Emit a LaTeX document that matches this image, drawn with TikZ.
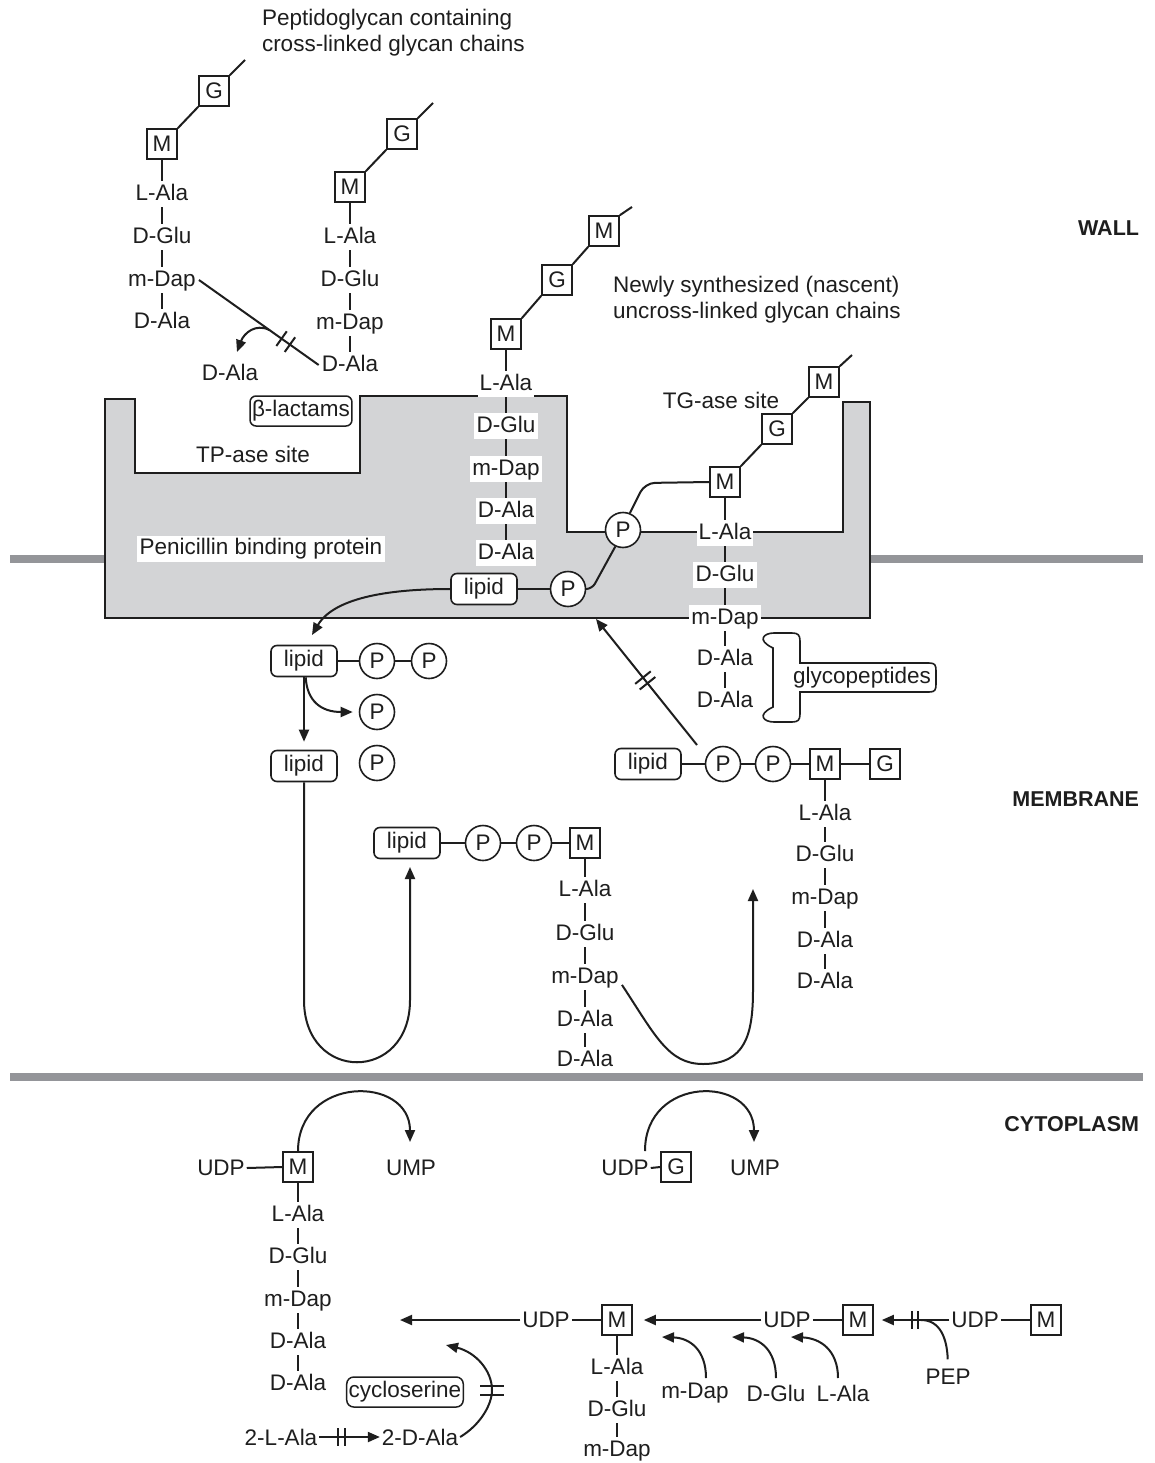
\documentclass[tikz,border=0pt]{standalone}
\usepackage{fontspec}
\setmainfont{Liberation Sans}
\usetikzlibrary{arrows.meta,calc,backgrounds}
\definecolor{pbpgray}{RGB}{211,212,214}
\definecolor{memgray}{RGB}{148,149,153}
\definecolor{ink}{RGB}{30,30,30}
\begin{document}
\begin{tikzpicture}[x=1pt,y=-1pt,
  every node/.style={font=\fontsize{22.5}{26}\selectfont,text=ink},
  every path/.append style={line width=2pt},
  sug/.style={draw=ink,fill=white,minimum size=30pt,inner sep=0pt,line width=1.6pt},
  pp/.style={draw=ink,fill=white,circle,minimum size=35pt,inner sep=0pt,line width=1.6pt},
  lip/.style={draw=ink,fill=white,rounded corners=6pt,minimum width=66pt,minimum height=31pt,inner sep=0pt,line width=1.6pt,text height=15.5pt,text depth=4.7pt},
  pep/.style={fill=white,inner sep=2.2pt,text height=16.8pt,text depth=4.7pt,yshift=-2pt},
  txt/.style={inner sep=1pt},
  cn/.style={draw=ink,line width=2pt},
  arr/.style={cn,-{Triangle[length=12pt,width=10pt]}},
  lbl/.style={font=\fontsize{21.5}{24}\selectfont\bfseries,anchor=east,inner sep=0pt},
]
\useasboundingbox (0,0) rectangle (1155,1463);
\begin{pgfonlayer}{background}
\fill[white] (0,0) rectangle (1155,1463);
\draw[memgray,line width=8pt] (10,559) -- (105,559);
\draw[memgray,line width=8pt] (870,559) -- (1143,559);
\draw[memgray,line width=8pt] (10,1077) -- (1143,1077);
\draw[fill=pbpgray,draw=ink,line width=1.7pt] (105,399) -- (135,399) -- (135,473) -- (360,473) -- (360,396) -- (567,396) -- (567,532) -- (843,532) -- (843,402) -- (870,402) -- (870,618) -- (105,618) -- cycle;
\end{pgfonlayer}

% titles
\node[txt,anchor=west,align=left] (title1) at (260,33) {Peptidoglycan containing\\cross-linked glycan chains};
\node[txt,anchor=west,align=left] (title2) at (611,300) {Newly synthesized (nascent)\\uncross-linked glycan chains};
\node[lbl] (wall) at (1140,228) {WALL};
\node[lbl] (memb) at (1140,799) {MEMBRANE};
\node[lbl] (cyto) at (1140,1124) {CYTOPLASM};

% chain 1
\node[sug] (g1) at (214,91) {G};
\node[sug] (m1) at (162,144) {M};
\node[pep] (a1) at (162,192) {L-Ala};
\node[pep] (b1) at (162,235) {D-Glu};
\node[pep] (c1) at (162,278) {m-Dap};
\node[pep] (d1) at (162,320) {D-Ala};
\coordinate (g1e) at (245,60);
\draw[cn] (m1.north east) -- (g1.south west);
\draw[cn] (g1.north east) -- (g1e);
% chain 2
\node[sug] (g2) at (402,134) {G};
\node[sug] (m2) at (350,187) {M};
\node[pep] (a2) at (350,235) {L-Ala};
\node[pep] (b2) at (350,278) {D-Glu};
\node[pep] (c2) at (350,321) {m-Dap};
\node[pep] (d2) at (350,363) {D-Ala};
\coordinate (g2e) at (433,103);
\draw[cn] (m2.north east) -- (g2.south west);
\draw[cn] (g2.north east) -- (g2e);
% cross link
\draw[cn] (c1.east) -- (d2.west);
\path (c1.east) -- (d2.west) coordinate[pos=0.59] (x0) coordinate[pos=0.69] (x1) coordinate[pos=0.76] (x2);
\draw[cn] ($(x1)!9pt!90:(d2.west)$) -- ($(x1)!9pt!-90:(d2.west)$);
\draw[cn] ($(x2)!9pt!90:(d2.west)$) -- ($(x2)!9pt!-90:(d2.west)$);
\node[txt] (dfree) at (230,372) {D-Ala};
\coordinate (dft) at (237,352);
\draw[arr] (x0) .. controls (256,323) and (244,333) .. (dft);

% nascent chain
\node[sug] (m3t) at (604,231) {M};
\node[sug] (g3) at (557,280) {G};
\node[sug] (m3) at (506,334) {M};
\coordinate (m3e) at (632,207);
\draw[cn] (m3.north east) -- (g3.south west);
\draw[cn] (g3.north east) -- (m3t.south west);
\draw[cn] (m3t.north east) -- (m3e);
\node[pep] (a3) at (506,382) {L-Ala};
\node[pep] (b3) at (506,424) {D-Glu};
\node[pep] (c3) at (506,467) {m-Dap};
\node[pep] (d3) at (506,509) {D-Ala};
\node[pep] (e3) at (506,551) {D-Ala};

% PBP labels
\node[draw=ink,rounded corners=6pt,fill=white,inner sep=2pt,minimum height=30pt,line width=1.5pt] (blac) at (301,411) {β-lactams};
\node[txt] (tp) at (253,454) {TP-ase site};
\node[fill=white,inner sep=3pt] (pbp) at (261,549) {Penicillin binding protein};
\node[txt] (tg) at (721,400) {TG-ase site};

% PBP right chain
\node[sug] (m4t) at (824,382) {M};
\node[sug] (g4) at (777,429) {G};
\node[sug] (m4) at (725,482) {M};
\coordinate (m4e) at (852,355);
\draw[cn] (m4.north east) -- (g4.south west);
\draw[cn] (g4.north east) -- (m4t.south west);
\draw[cn] (m4t.north east) -- (m4e);
\node[pep] (a4) at (725,531) {L-Ala};
\node[pep] (b4) at (725,573) {D-Glu};
\node[pep] (c4) at (725,616) {m-Dap};
\node[pep] (d4) at (725,657) {D-Ala};
\node[pep] (e4) at (725,699) {D-Ala};

% lipid in PBP
\node[lip] (l0) at (484,589) {lipid};
\node[pp] (p1) at (568,589) {P};
\node[pp] (p2) at (623,530) {P};
\draw[cn] (l0.east) -- (p1.west);
\draw[cn,rounded corners=6pt] (p1.east) -- (592,589) -- (p2.245);
\draw[cn,rounded corners=10pt] (p2.68) -- (645,483) -- (m4.west);

% glycopeptides
\node[txt] (gp) at (862,678) {glycopeptides};
\draw[draw=ink,line width=1.6pt] (800,663) -- (800,641) .. controls (800,635) and (798,633) .. (792,633) -- (774,633) .. controls (764,633) and (756,640) .. (773,648) -- (773,707) .. controls (756,715) and (764,722) .. (774,722) -- (792,722) .. controls (798,722) and (800,720) .. (800,714) -- (800,692) -- (929,692) .. controls (935,692) and (936,690) .. (936,684) -- (936,671) .. controls (936,665) and (935,663) .. (929,663) -- cycle;

% left membrane
\node[lip] (l1) at (304,661) {lipid};
\node[pp] (p11) at (377,661) {P};
\node[pp] (p12) at (429,661) {P};
\draw[cn] (l1.east) -- (p11.west);
\draw[cn] (p11.east) -- (p12.west);
\node[pp] (p13) at (377,712) {P};
\node[lip] (l2) at (304,766) {lipid};
\node[pp] (p14) at (377,763) {P};
\coordinate (t1) at (312,635);
\draw[arr] (l0.west) .. controls (395,589) and (335,596) .. (t1);
\draw[arr,shorten >=8pt] (l1.south) -- (l2.north);
\draw[arr,shorten >=6pt] (l1.-84) .. controls (307,701) and (321,712) .. (p13.west);

% middle complex
\node[lip] (l3) at (407,843) {lipid};
\node[pp] (p31) at (483,843) {P};
\node[pp] (p32) at (534,843) {P};
\node[sug] (m5) at (585,843) {M};
\draw[cn] (l3.east) -- (p31.west);
\draw[cn] (p31.east) -- (p32.west);
\draw[cn] (p32.east) -- (m5.west);
\node[pep] (a5) at (585,888) {L-Ala};
\node[pep] (b5) at (585,932) {D-Glu};
\node[pep] (c5) at (585,975) {m-Dap};
\node[pep] (d5) at (585,1018) {D-Ala};
\node[pep] (e5) at (585,1058) {D-Ala};
\coordinate (u1) at (410,867);
\draw[arr] (l2.south) -- (304,1000) .. controls (304,1083) and (410,1083) .. (410,1000) -- (u1);
\coordinate (u2) at (753,889);
\draw[arr] (c5.-12) .. controls (655,1035) and (668,1064) .. (703,1064) .. controls (745,1064) and (753,1035) .. (753,990) -- (u2);

% right complex
\node[lip] (l4) at (648,764) {lipid};
\node[pp] (p41) at (723,764) {P};
\node[pp] (p42) at (773,764) {P};
\node[sug] (m6) at (825,764) {M};
\node[sug] (g6) at (885,764) {G};
\draw[cn] (l4.east) -- (p41.west);
\draw[cn] (p41.east) -- (p42.west);
\draw[cn] (p42.east) -- (m6.west);
\draw[cn] (m6.east) -- (g6.west);
\node[pep] (a6) at (825,812) {L-Ala};
\node[pep] (b6) at (825,853) {D-Glu};
\node[pep] (c6) at (825,896) {m-Dap};
\node[pep] (d6) at (825,939) {D-Ala};
\node[pep] (e6) at (825,980) {D-Ala};
\coordinate (s7) at (697,745);
\coordinate (t7) at (596,619);
\draw[arr] (s7) -- (t7);
\path (s7) -- (t7) coordinate[pos=0.49] (k1) coordinate[pos=0.535] (k2);
\draw[cn] ($(k1)!10pt!90:(t7)$) -- ($(k1)!10pt!-90:(t7)$);
\draw[cn] ($(k2)!10pt!90:(t7)$) -- ($(k2)!10pt!-90:(t7)$);

% cytoplasm
\node[txt] (udp1) at (221,1168) {UDP};
\node[sug] (m7) at (298,1167) {M};
\node[txt] (ump1) at (411,1168) {UMP};
\draw[cn] (udp1.east) -- (m7.west);
\node[pep] (a7) at (298,1213) {L-Ala};
\node[pep] (b7) at (298,1255) {D-Glu};
\node[pep] (c7) at (298,1298) {m-Dap};
\node[pep] (d7) at (298,1340) {D-Ala};
\node[pep] (e7) at (298,1382) {D-Ala};
\coordinate (ct1) at (410,1142);
\draw[arr] (m7.north) .. controls (298,1075) and (410,1075) .. (ct1);

\node[txt] (udp2) at (625,1168) {UDP};
\node[sug] (g7) at (676,1167) {G};
\node[txt] (ump2) at (755,1168) {UMP};
\draw[cn] (udp2.east) -- (g7.west);
\coordinate (cs2) at (645,1151);
\coordinate (ct2) at (754,1142);
\draw[arr] (cs2) .. controls (645,1075) and (754,1075) .. (ct2);

\node[txt] (udp3) at (546,1320) {UDP};
\node[sug] (m8) at (617,1320) {M};
\draw[cn] (udp3.east) -- (m8.west);
\coordinate (bt1) at (400,1320);
\draw[arr] (udp3.west) -- (bt1);
\node[pep] (a8) at (617,1366) {L-Ala};
\node[pep] (b8) at (617,1408) {D-Glu};
\node[pep] (c8) at (617,1448) {m-Dap};

\node[txt] (udp4) at (787,1320) {UDP};
\node[sug] (m9) at (858,1320) {M};
\draw[cn] (udp4.east) -- (m9.west);
\draw[arr,shorten >=11pt] (udp4.west) -- (m8.east);

\node[txt] (udp5) at (975,1320) {UDP};
\node[sug] (m10) at (1046,1320) {M};
\draw[cn] (udp5.east) -- (m10.west);
\draw[arr,shorten >=8pt] (udp5.west) -- (m9.east);
\draw[cn] (912,1311) -- (912,1329);
\draw[cn] (918,1311) -- (918,1329);
\node[txt] (pep) at (948,1377) {PEP};
\coordinate (pj) at (921,1320);
\draw[cn,shorten <=8pt] (pep.north) .. controls (947,1338) and (940,1320) .. (pj);

\node[txt] (aa1) at (695,1393) {m-Dap};
\node[txt] (aa2) at (776,1393) {D-Glu};
\node[txt] (aa3) at (843,1393) {L-Ala};
\coordinate (sa1) at (706,1378);
\coordinate (sa2) at (776,1378);
\coordinate (sa3) at (838,1378);
\coordinate (ta1) at (662,1337);
\coordinate (ta2) at (732,1337);
\coordinate (ta3) at (791,1337);
\draw[arr] (sa1) .. controls (706,1350) and (690,1338) .. (ta1);
\draw[arr] (sa2) .. controls (776,1350) and (760,1338) .. (ta2);
\draw[arr] (sa3) .. controls (838,1350) and (820,1338) .. (ta3);

\node[draw=ink,rounded corners=7pt,inner sep=2pt,minimum height=30pt,line width=1.5pt] (cyc) at (405,1392) {cycloserine};
\node[txt] (la2) at (281,1437) {2-L-Ala};
\node[txt] (da2) at (420,1437) {2-D-Ala};
\draw[arr] (la2.east) -- (da2.west);
\draw[cn] (338,1428) -- (338,1446);
\draw[cn] (345,1428) -- (345,1446);
\coordinate (cyt) at (446,1345);
\draw[arr] (da2.east) .. controls (480,1425) and (492,1405) .. (492,1390) .. controls (492,1370) and (475,1352) .. (cyt);
\draw[cn] (480,1386) -- (504,1386);
\draw[cn] (480,1395) -- (504,1395);

% chain bonds behind labels
\begin{pgfonlayer}{background}
\draw[cn] (m1.south) -- (d1.center);
\draw[cn] (m2.south) -- (d2.center);
\draw[cn] (m3.south) -- (e3.center);
\draw[cn] (m4.south) -- (e4.center);
\draw[cn] (m5.south) -- (e5.center);
\draw[cn] (m6.south) -- (e6.center);
\draw[cn] (m7.south) -- (e7.center);
\draw[cn] (m8.south) -- (c8.center);
\end{pgfonlayer}
\end{tikzpicture}
\end{document}
